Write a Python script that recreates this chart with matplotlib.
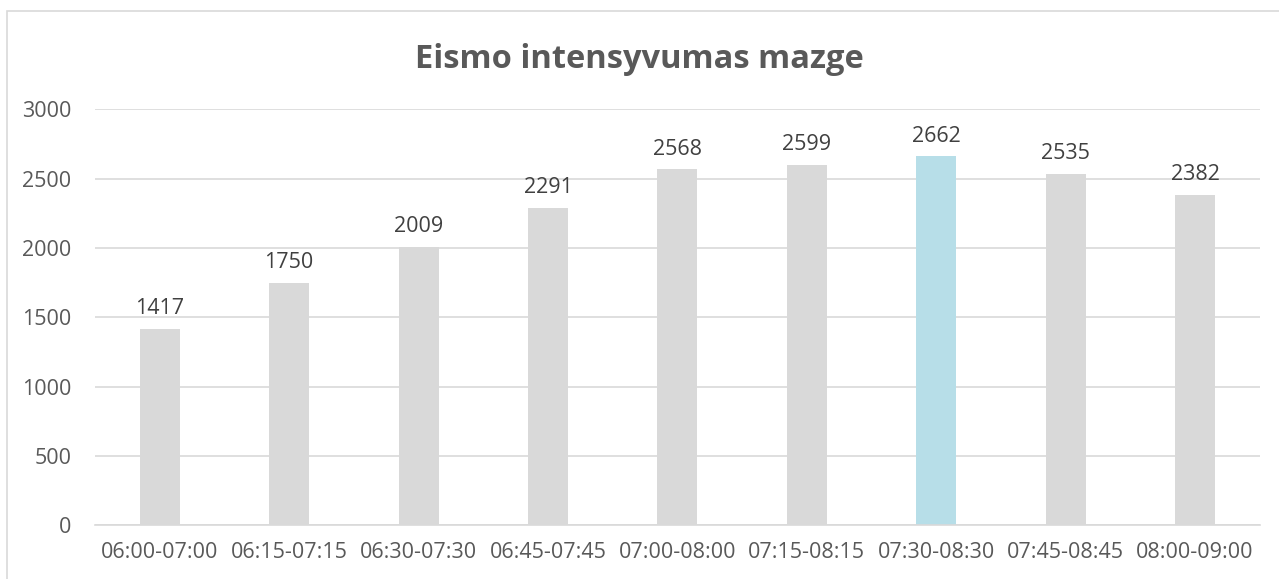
import matplotlib.pyplot as plt
from matplotlib.patches import Rectangle

# Duomenys
intervals = ['06:00-07:00', '06:15-07:15', '06:30-07:30', '06:45-07:45', '07:00-08:00',
             '07:15-08:15', '07:30-08:30', '07:45-08:45', '08:00-09:00']
volumes = [1417, 1750, 2009, 2291, 2568, 2599, 2662, 2535, 2382]
peak_interval = '07:30-08:30'

plt.rcParams['font.family'] = ['Open Sans', 'DejaVu Sans']

fig = plt.figure(figsize=(12.79, 5.79), dpi=100)
ax = fig.add_axes([0.0743, 0.0927, 0.9107, 0.7182])

colors = ['#B7DEE8' if t == peak_interval else '#D9D9D9' for t in intervals]
bars = ax.bar(range(len(intervals)), volumes, width=0.31, color=colors, zorder=2)

for rect, v in zip(bars, volumes):
    ax.annotate(str(v), (rect.get_x() + rect.get_width() / 2, v),
                xytext=(0, 7), textcoords='offset points',
                ha='center', va='bottom', fontsize=15.5, color='#404040')

ax.set_xlim(-0.5, len(intervals) - 0.5)
ax.set_ylim(0, 3000)
ax.set_yticks(range(0, 3001, 500))
ax.set_xticks(range(len(intervals)))
ax.set_xticklabels(intervals)
ax.yaxis.grid(True, color='#D9D9D9', linewidth=1.2, zorder=0)
ax.tick_params(axis='both', length=0, labelsize=15.5, labelcolor='#595959')
ax.tick_params(axis='x', pad=12)
ax.tick_params(axis='y', pad=17)
for side in ['top', 'right', 'left']:
    ax.spines[side].set_visible(False)
ax.spines['bottom'].set_color('#D9D9D9')
ax.spines['bottom'].set_linewidth(1.2)

fig.text(0.5, 0.898, 'Eismo intensyvumas mazge', ha='center', va='center',
         fontsize=23.5, fontweight='bold', color='#595959')

# rėmelis aplink diagramą
fig.patches.append(Rectangle((7 / 1279, -0.05), 1.1, 1 - 11 / 579 + 0.05,
                             transform=fig.transFigure, fill=False,
                             edgecolor='#D9D9D9', linewidth=1.2))

fig.savefig('out.png', dpi=100, facecolor='white')
